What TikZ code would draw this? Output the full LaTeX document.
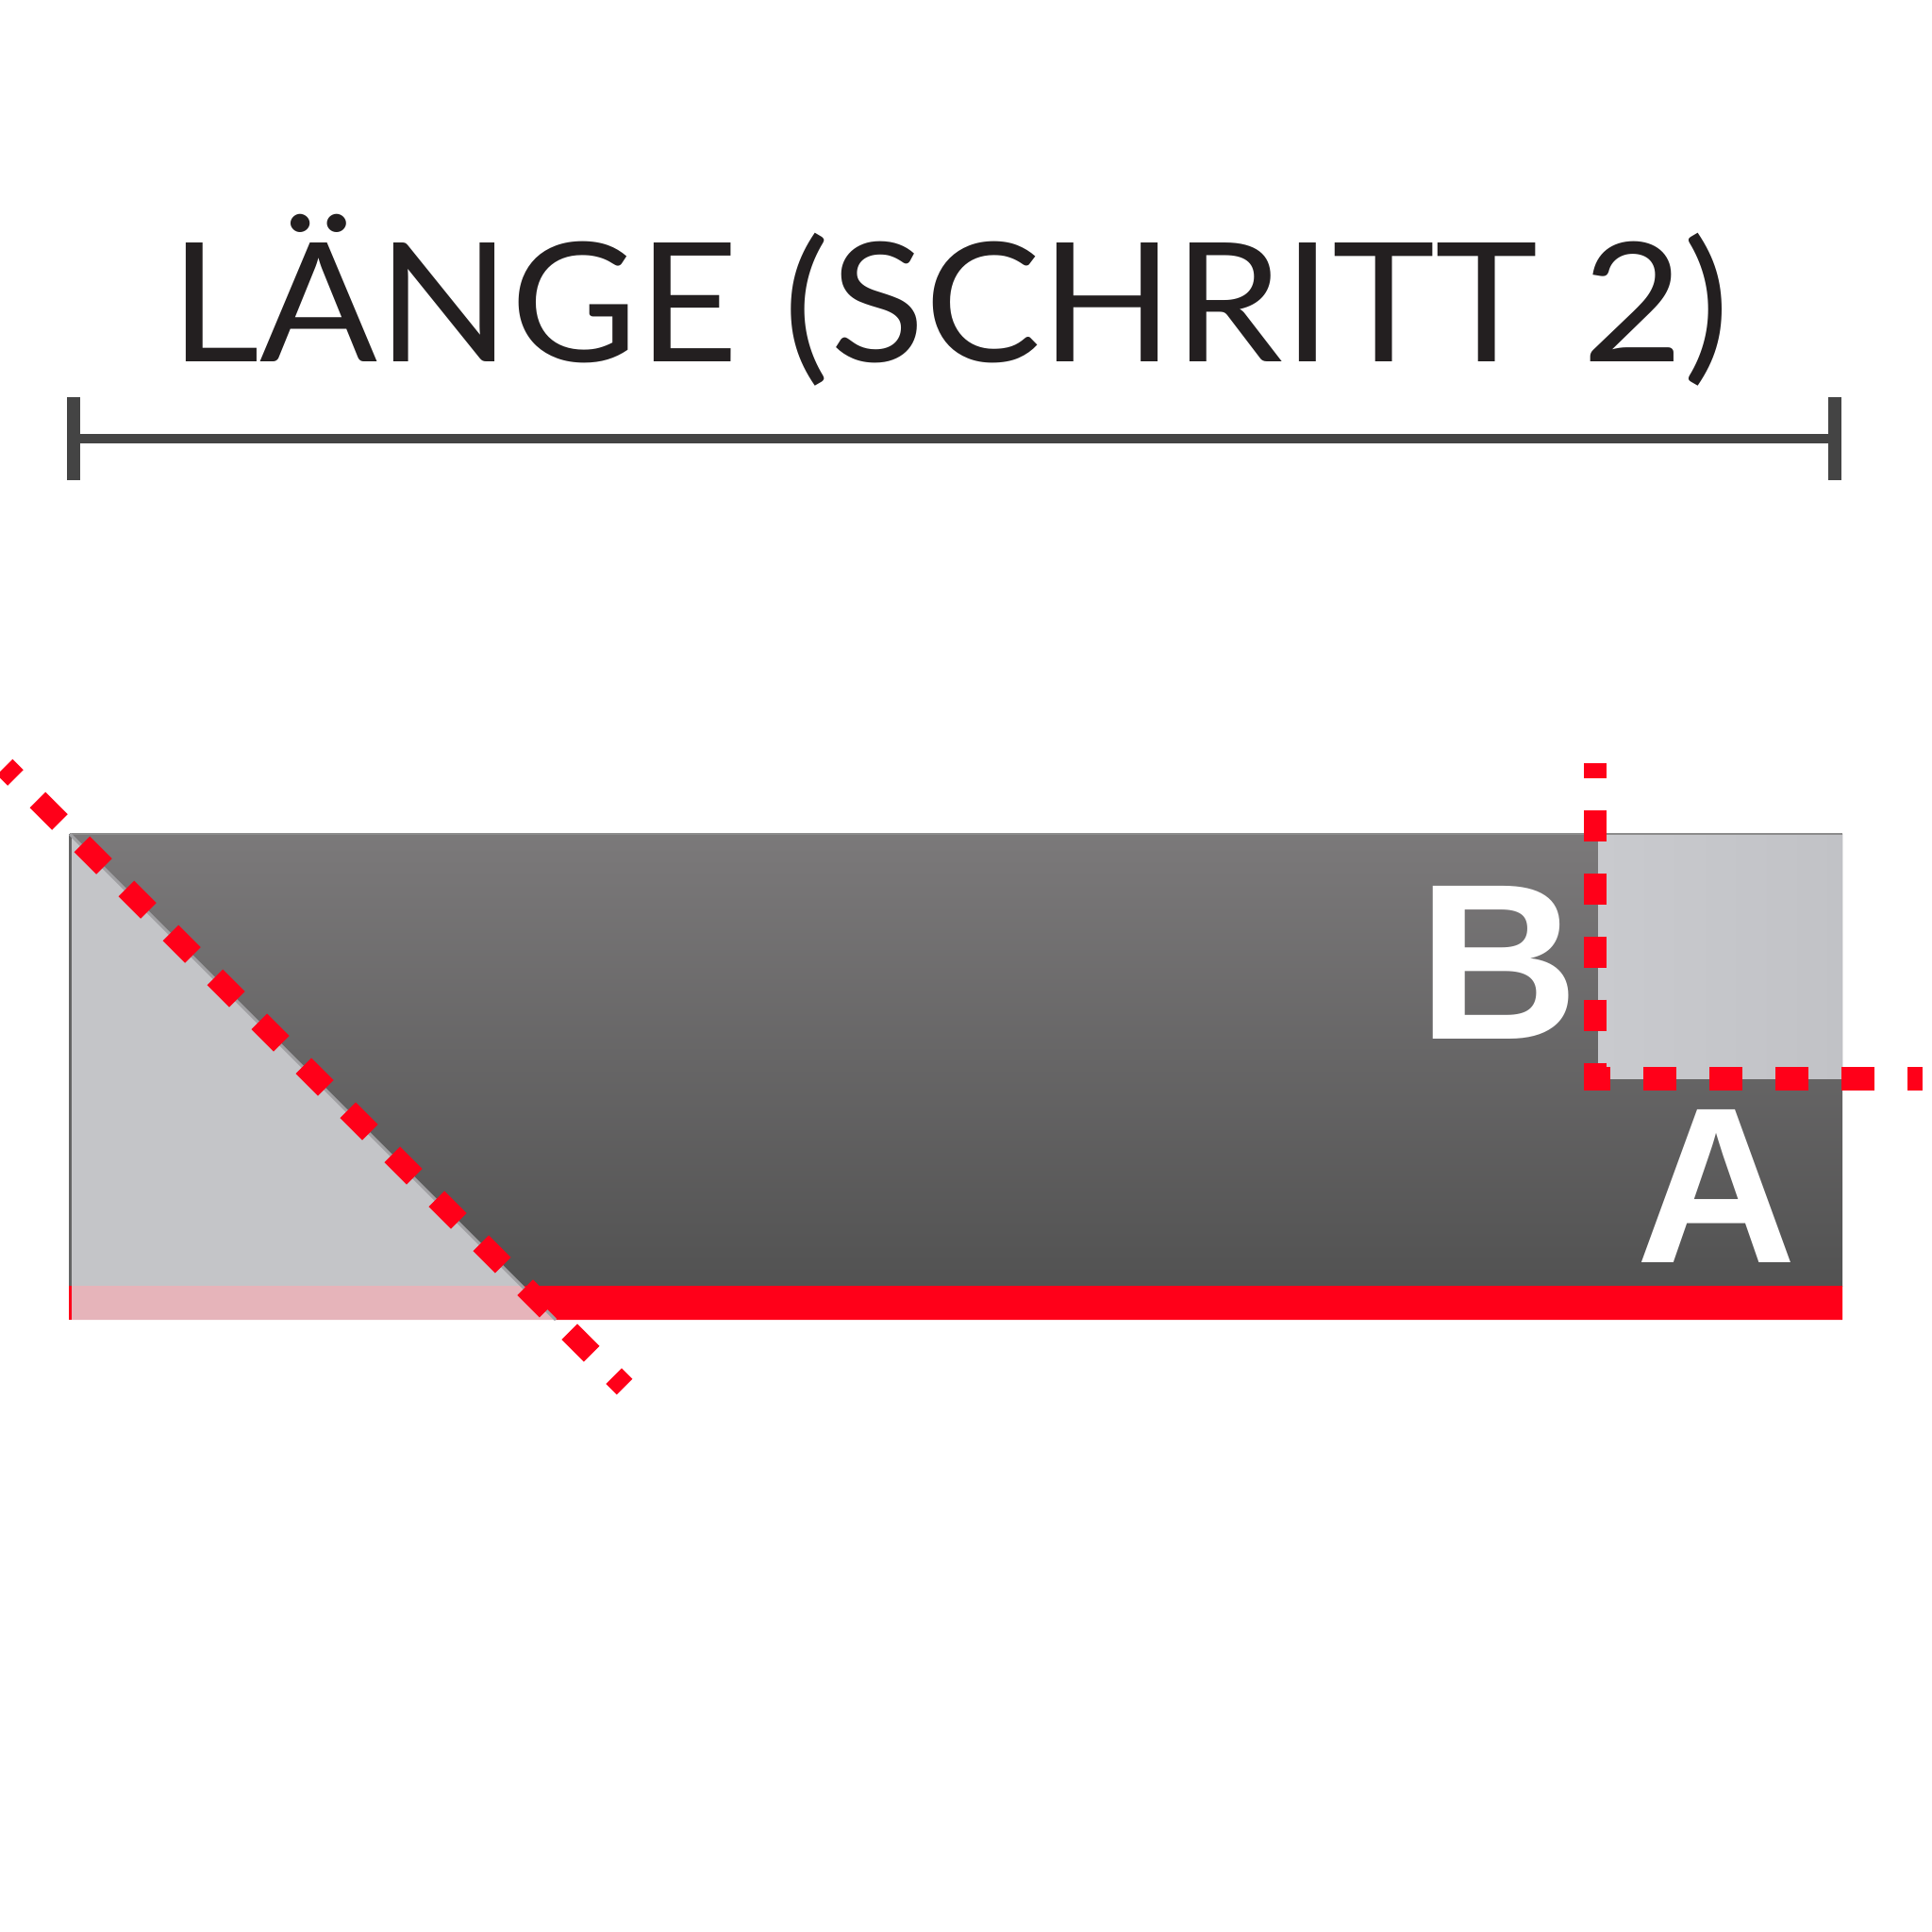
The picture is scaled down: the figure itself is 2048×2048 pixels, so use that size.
\documentclass[tikz,border=0pt]{standalone}
\usepackage{fontspec}
\setmainfont{Lato}
\newfontfamily\letterfont{Liberation Sans}
\usetikzlibrary{positioning}
\definecolor{dimgrey}{RGB}{68,68,68}
\definecolor{titleblack}{RGB}{35,31,32}
\definecolor{cutred}{RGB}{255,0,25}
\definecolor{lightpart}{RGB}{196,197,200}
\definecolor{pinkpart}{RGB}{230,180,186}
\definecolor{darktop}{RGB}{123,121,122}
\definecolor{darkbottom}{RGB}{82,82,82}

\begin{document}
\begin{tikzpicture}[x=0.01cm, y=-0.01cm,
    dimline/.style={draw=dimgrey, line width=0.1cm},
    dimtick/.style={draw=dimgrey, line width=0.14cm},
    cutline/.style={draw=cutred, line width=0.235cm},
    letter/.style={text=white, font=\letterfont\bfseries\fontsize{67}{67}\selectfont,
                   inner sep=0pt, anchor=base}
]
\useasboundingbox (0,0) rectangle (2048,2048);

% Title and dimension line
\node[font=\fontsize{50}{50}\selectfont, text=titleblack, inner sep=0pt, anchor=base]
    (title) at (1007,383) {\scalebox{1.05}[1]{LÄNGE (SCHRITT 2)}};
\coordinate (dimL) at (78,465);
\coordinate (dimR) at (1945,465);
\draw[dimline] (dimL) -- (dimR);
\draw[dimtick] (78,421) -- (78,509);
\draw[dimtick] (1945,421) -- (1945,509);

% Board
\coordinate (tl) at (74,884);
\coordinate (tr) at (1953,884);
\coordinate (bl) at (74,1399);
\coordinate (br) at (1953,1399);
\shade[top color=darktop, bottom color=darkbottom] (tl) rectangle (1953,1363);
\shade[left color={rgb,255:red,201;green,202;blue,206}, right color={rgb,255:red,193;green,194;blue,198}]
    (1694,884) rectangle (tr |- 0,1143);
\fill[lightpart] (tl) -- (74,1363) -- (553,1363) -- cycle;
\fill[pinkpart] (74,1363) -- (553,1363) -- (589,1399) -- (bl) -- cycle;
\fill[cutred] (553,1363) -- (1953,1363) -- (br) -- (589,1399) -- cycle;
\draw[draw={rgb,255:red,140;green,140;blue,140}, line width=0.02cm] (tl) -- (tr);
\draw[draw={rgb,255:red,100;green,100;blue,100}, line width=0.03cm] (tl) -- (74,1363);
\draw[cutred, line width=0.03cm] (74,1363) -- (bl);
\draw[draw={rgb,255:red,160;green,160;blue,163}, line width=0.03cm] (tl) -- (589,1399);

% Letters
\node[letter] (markB) at (1589,1101) {B};
\node[letter] (markA) at (1820,1338) {A};

% Cut lines
\draw[cutline, dash pattern=on 0.332cm off 0.332cm, dash phase=0.17cm] (5,813) -- (662,1470);
\draw[cutline, line width=0.245cm, dash pattern=on 0.335cm off 0.335cm, dash phase=0.175cm]
    (1691,809) -- (1691,1156);
\draw[cutline, line width=0.25cm, dash pattern=on 0.35cm off 0.35cm, dash phase=0.07cm]
    (1679,1143.5) -- (2038,1143.5);

\end{tikzpicture}
\end{document}
